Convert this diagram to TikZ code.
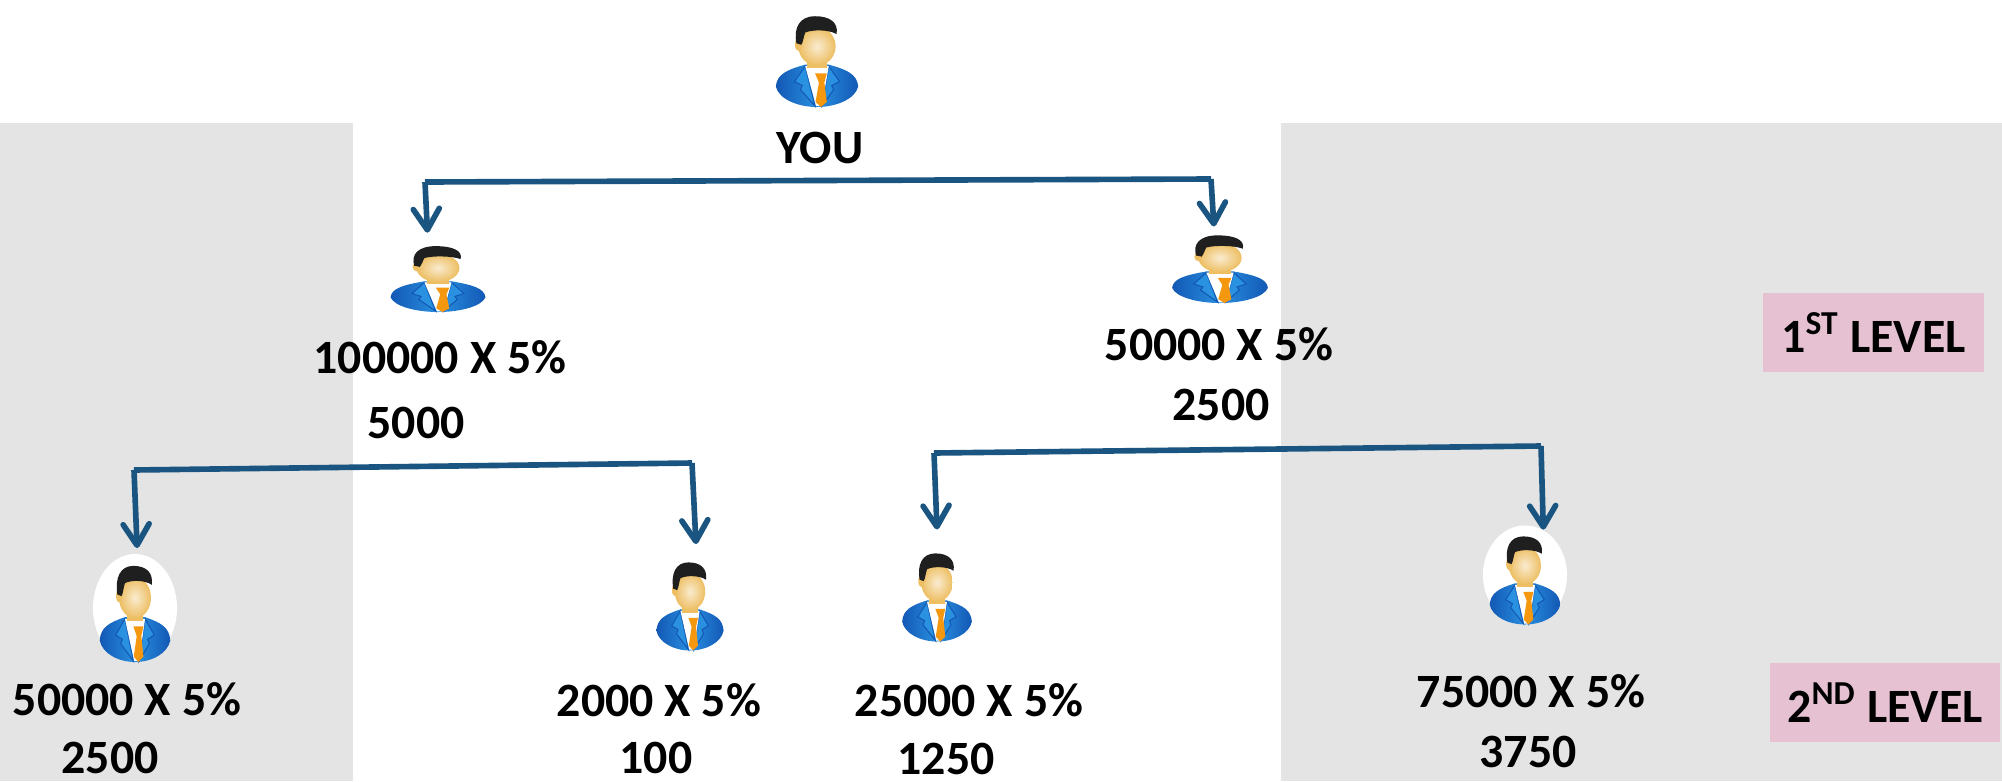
\documentclass[tikz,border=0pt]{standalone}
\usepackage{fontspec}
\setmainfont{Carlito}
\usetikzlibrary{arrows.meta,shapes.geometric,positioning}
\definecolor{panelgray}{HTML}{E4E4E4}
\definecolor{levelpink}{HTML}{E5C1D2}
\definecolor{linkblue}{HTML}{1A5480}
\definecolor{suitdark}{HTML}{1258B4}
\definecolor{suitlight}{HTML}{2A90E0}
\definecolor{skin}{HTML}{EDBE62}
\definecolor{tieorange}{HTML}{F5980F}
\tikzset{person/.pic={
      \path[left color=suitdark,right color=suitdark,middle color=suitlight]
        (-84,60) .. controls (-82,36) and (-62,27) .. (-24,17)
        -- (24,17) .. controls (62,27) and (82,36) .. (84,60)
        .. controls (78,84) and (40,100) .. (0,100)
        .. controls (-40,100) and (-78,84) .. (-84,60) -- cycle;
      \filldraw[suitlight,draw=suitdark,line width=.3pt] (-24,20) -- (-46,50) -- (-30,58) -- (-34,66) -- (-4,98) -- cycle;
      \filldraw[suitlight,draw=suitdark,line width=.3pt] (24,20) -- (46,50) -- (30,58) -- (34,66) -- (10,98) -- cycle;
      \fill[white] (-24,20) -- (24,20) -- (10,98) -- (-2,98) -- cycle;
      \fill[skin] (-20,-10) rectangle (20,24);
      \fill[tieorange] (-4,34) -- (20,34) -- (15,52) -- (20,90) -- (8,100) -- (-3,90) -- (4,52) -- cycle;
      \shade[inner color=white!70!skin,outer color=skin] (0,-19) circle [x radius=38,y radius=38];
      \fill[skin] (-38,-22) circle [x radius=7,y radius=12];
      \fill[black!88] (-42,-25) .. controls (-48,-55) and (-36,-78) .. (-4,-78)
        .. controls (26,-78) and (44,-66) .. (40,-43)
        .. controls (24,-52) and (-10,-52) .. (-24,-46)
        .. controls (-28,-36) and (-28,-28) .. (-32,-22) -- cycle;
  }}
\begin{document}
\begin{tikzpicture}[x=0.01cm,y=-0.01cm]
        \tikzstyle{personblock}=[ellipse, fill=white, inner sep=0pt]
        \tikzstyle{amount}=[anchor=base, inner sep=0pt, font=\bfseries\fontsize{13.6}{16}\selectfont]
        \tikzstyle{levelblock}=[rectangle, fill=levelpink, inner sep=0pt, font=\bfseries\fontsize{13.6}{16}\selectfont]
        \tikzstyle{bar}=[linkblue, line width=1.6pt]
        \tikzstyle{drop}=[linkblue, line width=1.6pt, -{Straight Barb[round,length=2.1mm,width=2.6mm]}]
        \useasboundingbox (0,0) rectangle (2002,781);
        \fill[panelgray] (0,123) rectangle (353,781);
        \fill[panelgray] (1281,123) rectangle (2002,781);

        \node[personblock, minimum width=.98cm, minimum height=1.02cm] (you) at (817,56) {};
        \node[personblock, minimum width=1.13cm, minimum height=.74cm, outer ysep=.06cm] (p1) at (438,275) {};
        \node[personblock, minimum width=1.14cm, minimum height=.76cm] (p2) at (1220,265) {};
        \node[personblock, minimum width=.84cm, minimum height=1.08cm, outer ysep=.06cm] (q1) at (135,608) {};
        \node[personblock, minimum width=.80cm, minimum height=.99cm, outer ysep=.08cm] (q2) at (690,601) {};
        \node[personblock, minimum width=.83cm, minimum height=.99cm, outer ysep=.13cm] (q3) at (937,592) {};
        \node[personblock, minimum width=.84cm, minimum height=.99cm] (q4) at (1525,575) {};
        \pic[xscale=.49,yscale=.51] at (you) {person};
        \pic[xscale=.565,yscale=.37] at (p1) {person};
        \pic[xscale=.57,yscale=.38] at (p2) {person};
        \pic[xscale=.42,yscale=.54] at (q1) {person};
        \pic[xscale=.40,yscale=.495] at (q2) {person};
        \pic[xscale=.415,yscale=.495] at (q3) {person};
        \pic[xscale=.42,yscale=.495] at (q4) {person};

        \node[amount] (youlabel) at (820,163) {YOU};
        \node[amount] (p1rate) at (440,373) {100000 X 5\%};
        \node[amount] (p1sum) at (416,438) {5000};
        \node[amount] (p2rate) at (1219,360) {50000 X 5\%};
        \node[amount] (p2sum) at (1221,420) {2500};
        \node[amount] (q1rate) at (127,715) {50000 X 5\%};
        \node[amount] (q1sum) at (110,773) {2500};
        \node[amount] (q2rate) at (659,716) {2000 X 5\%};
        \node[amount] (q2sum) at (656,773) {100};
        \node[amount] (q3rate) at (969,716) {25000 X 5\%};
        \node[amount] (q3sum) at (946,774) {1250};
        \node[amount] (q4rate) at (1531,707) {75000 X 5\%};
        \node[amount] (q4sum) at (1528,767) {3750};
        \node[levelblock, minimum width=2.21cm, minimum height=.79cm] (first) at (1873.5,332.5) {1\textsuperscript{ST} LEVEL};
        \node[levelblock, minimum width=2.30cm, minimum height=.79cm] (second) at (1885,702.5) {2\textsuperscript{ND} LEVEL};

        \coordinate (aleft) at (425,182);
        \coordinate (aright) at (1211,179);
        \coordinate (bleft) at (134,470);
        \coordinate (bright) at (692,463);
        \coordinate (cleft) at (934,453);
        \coordinate (cright) at (1541,446);
        \draw [bar] (aleft) -- (aright);
        \draw [bar] (bleft) -- (bright);
        \draw [bar] (cleft) -- (cright);
        \draw [drop] (aleft) -- (p1.104);
        \draw [drop] (aright) -- (p2.99);
        \draw [drop] (bleft) -- (q1.88);
        \draw [drop] (bright) -- (q2.84);
        \draw [drop] (cleft) -- (q3.90);
        \draw [drop] (cright) -- (q4.68);
      \end{tikzpicture}
\end{document}
